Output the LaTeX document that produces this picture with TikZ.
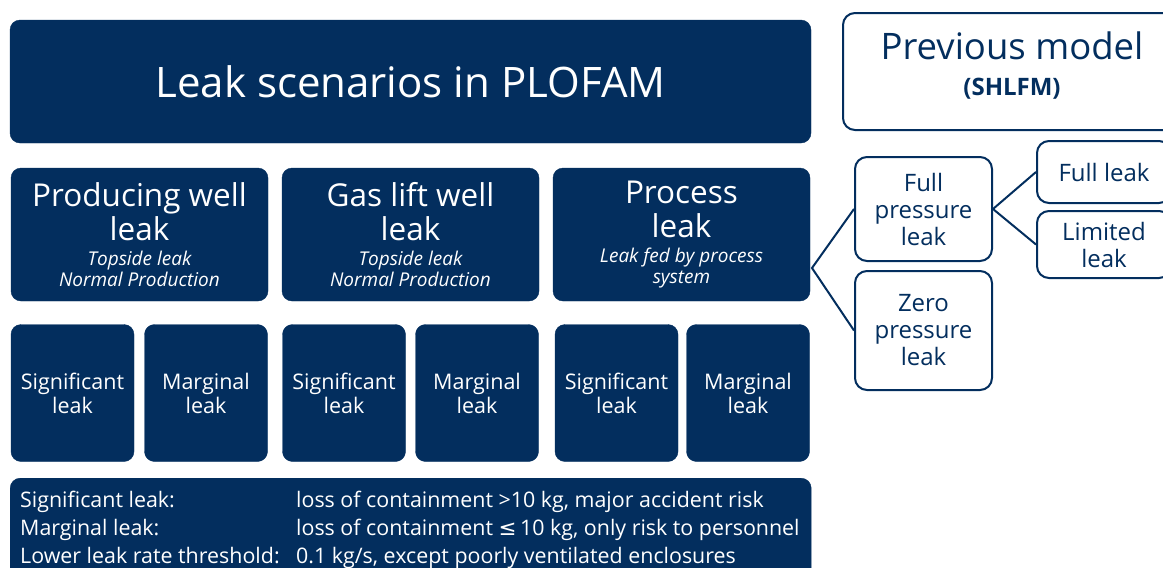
\documentclass[tikz,border=0pt]{standalone}
\usepackage{fontspec}
\setmainfont{Open Sans}
\newfontfamily\simb{DejaVu Sans}
\definecolor{azul}{RGB}{3,46,94}
\newcommand{\tam}[2]{\fontsize{#1}{#2}\selectfont}
\tikzset{
  caixa/.style={draw=azul, fill=azul, text=white, rounded corners=10pt, align=center, inner sep=0pt},
  caixab/.style={draw=azul, line width=2pt, fill=white, text=azul, rounded corners=12pt, align=center, inner sep=0pt},
  liga/.style={draw=azul, line width=2pt},
  tipo/.style={caixa, minimum width=257pt, minimum height=133pt, font=\tam{31.5}{35}},
  sub/.style={caixa, minimum width=123pt, minimum height=137pt, font=\tam{21.5}{24}},
  alt/.style={caixab, font=\tam{24}{27}}
}
\newcommand{\desc}[1]{{\tam{19}{21}\itshape #1}}
\begin{document}
\begin{tikzpicture}[x=1pt,y=-1pt]
  \useasboundingbox (0,0) rectangle (1163,568);
  \clip (0,0) rectangle (1163,568);
  % titulo
  \node[caixa, minimum width=801pt, minimum height=123pt, font=\tam{42}{48}] (titulo) at (410.5,81.5)
    {Leak scenarios in PLOFAM};
  \node[caixab, minimum width=338pt, minimum height=117pt] (prev) at (1012,71.5) {};
  \node[text=azul, align=center, font=\tam{36.5}{40}] (prevtxt) at (1012,66)
    {Previous model\\[-4pt]{\tam{24}{26}\bfseries(SHLFM)}};
  % tipos de vazamento
  \node[tipo] (prod) at (139.5,234.5)
    {Producing well\\[-1pt]leak\\[-10pt]\desc{Topside leak}\\[-14pt]\desc{Normal Production}};
  \node[tipo] (gas) at (410.5,234.5)
    {Gas lift well\\[-1pt]leak\\[-10pt]\desc{Topside leak}\\[-14pt]\desc{Normal Production}};
  \node[tipo] (proc) at (681.5,234.5)
    {Process\\[-1pt]leak\\[-10pt]\desc{Leak fed by process}\\[-14pt]\desc{system}};
  % significativo / marginal
  \node[sub] (prodsig) at (72.5,393) {Significant\\leak};
  \node[sub] (prodmar) at (206,393) {Marginal\\leak};
  \node[sub] (gassig) at (344,393) {Significant\\leak};
  \node[sub] (gasmar) at (477,393) {Marginal\\leak};
  \node[sub] (procsig) at (616.5,393) {Significant\\leak};
  \node[sub] (procmar) at (748,393) {Marginal\\leak};
  % notas
  \node[caixa, anchor=north west, minimum width=801pt, minimum height=120pt] (notas) at (10,478) {};
  \node[text=white, align=left, anchor=north west, inner sep=0pt, font=\tam{21.4}{28}] (notastxt) at (20,491)
    {\makebox[276pt][l]{Significant leak:}loss of containment >10 kg, major accident risk\\
     \makebox[276pt][l]{Marginal leak:}loss of containment {\simb≤}\,10 kg, only risk to personnel\\
     \makebox[276pt][l]{Lower leak rate threshold:}0.1 kg/s, except poorly ventilated enclosures};
  % modelo anterior
  \node[alt, minimum width=137pt, minimum height=104pt] (fullp) at (923.5,209) {Full\\pressure\\leak};
  \node[alt, minimum width=137pt, minimum height=119pt] (zerop) at (923.5,330.5) {Zero\\pressure\\leak};
  \node[alt, minimum width=134pt, minimum height=62pt] (fullleak) at (1104,172) {Full leak};
  \node[alt, minimum width=134pt, minimum height=67pt] (limleak) at (1104,244.5) {Limited\\leak};
  \coordinate (junta) at (812,268);                 % ponto de saida
  \draw[liga] (fullp.west) -- (junta) -- (zerop.west);
  \draw[liga] (fullleak.west) -- (fullp.east) -- (limleak.west);
\end{tikzpicture}
\end{document}
